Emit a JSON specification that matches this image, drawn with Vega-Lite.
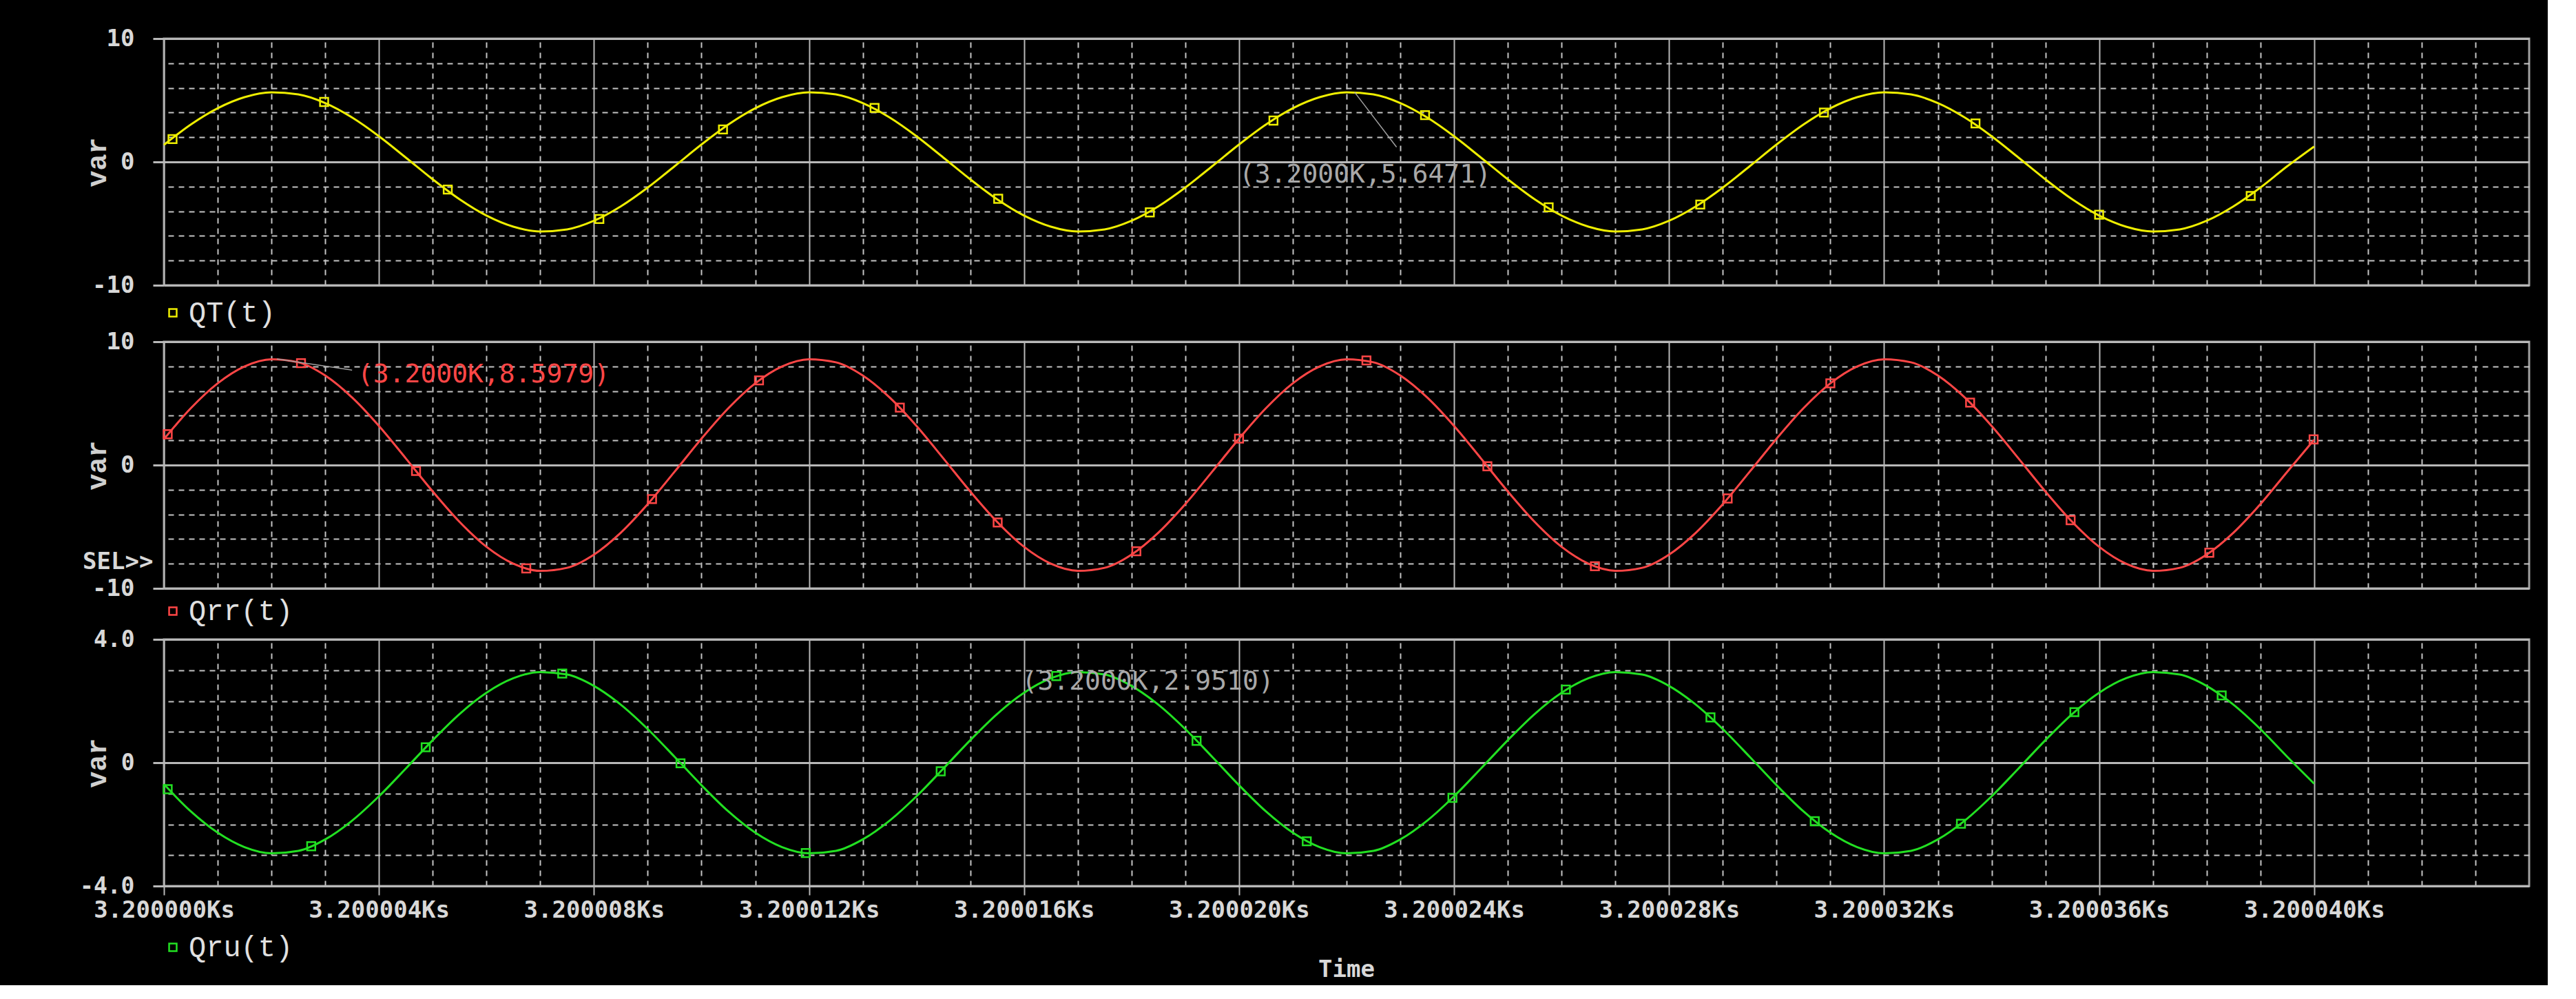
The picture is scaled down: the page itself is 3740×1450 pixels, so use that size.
{
"$schema": "https://vega.github.io/schema/vega-lite/v6.json",
"background": "#000000",
"padding": {"left": 114, "top": 37, "right": 25, "bottom": 3},
"spacing": 0,
"datasets": {
"curves": [
{"t":0,"QT":1.38,"Qrr":2.1,"Qru":-0.7},
{"t":0.5,"QT":3.03,"Qrr":4.61,"Qru":-1.58},
{"t":1,"QT":4.35,"Qrr":6.63,"Qru":-2.27},
{"t":1.5,"QT":5.25,"Qrr":8.0,"Qru":-2.74},
{"t":2,"QT":5.64,"Qrr":8.58,"Qru":-2.94},
{"t":2.5,"QT":5.47,"Qrr":8.33,"Qru":-2.86},
{"t":3,"QT":4.77,"Qrr":7.26,"Qru":-2.49},
{"t":3.5,"QT":3.6,"Qrr":5.48,"Qru":-1.88},
{"t":4,"QT":2.08,"Qrr":3.17,"Qru":-1.09},
{"t":4.5,"QT":0.35,"Qrr":0.54,"Qru":-0.19},
{"t":5,"QT":-1.41,"Qrr":-2.14,"Qru":0.73},
{"t":5.5,"QT":-3.03,"Qrr":-4.61,"Qru":1.58},
{"t":6,"QT":-4.35,"Qrr":-6.63,"Qru":2.27},
{"t":6.5,"QT":-5.25,"Qrr":-8.0,"Qru":2.74},
{"t":7,"QT":-5.64,"Qrr":-8.58,"Qru":2.94},
{"t":7.5,"QT":-5.47,"Qrr":-8.33,"Qru":2.86},
{"t":8,"QT":-4.77,"Qrr":-7.26,"Qru":2.49},
{"t":8.5,"QT":-3.6,"Qrr":-5.48,"Qru":1.88},
{"t":9,"QT":-2.08,"Qrr":-3.17,"Qru":1.09},
{"t":9.5,"QT":-0.35,"Qrr":-0.54,"Qru":0.19},
{"t":10,"QT":1.41,"Qrr":2.14,"Qru":-0.73},
{"t":10.5,"QT":3.03,"Qrr":4.61,"Qru":-1.58},
{"t":11,"QT":4.35,"Qrr":6.63,"Qru":-2.27},
{"t":11.5,"QT":5.25,"Qrr":8.0,"Qru":-2.74},
{"t":12,"QT":5.64,"Qrr":8.58,"Qru":-2.94},
{"t":12.5,"QT":5.47,"Qrr":8.33,"Qru":-2.86},
{"t":13,"QT":4.77,"Qrr":7.26,"Qru":-2.49},
{"t":13.5,"QT":3.6,"Qrr":5.48,"Qru":-1.88},
{"t":14,"QT":2.08,"Qrr":3.17,"Qru":-1.09},
{"t":14.5,"QT":0.35,"Qrr":0.54,"Qru":-0.19},
{"t":15,"QT":-1.41,"Qrr":-2.14,"Qru":0.73},
{"t":15.5,"QT":-3.03,"Qrr":-4.61,"Qru":1.58},
{"t":16,"QT":-4.35,"Qrr":-6.63,"Qru":2.27},
{"t":16.5,"QT":-5.25,"Qrr":-8.0,"Qru":2.74},
{"t":17,"QT":-5.64,"Qrr":-8.58,"Qru":2.94},
{"t":17.5,"QT":-5.47,"Qrr":-8.33,"Qru":2.86},
{"t":18,"QT":-4.77,"Qrr":-7.26,"Qru":2.49},
{"t":18.5,"QT":-3.6,"Qrr":-5.48,"Qru":1.88},
{"t":19,"QT":-2.08,"Qrr":-3.17,"Qru":1.09},
{"t":19.5,"QT":-0.35,"Qrr":-0.54,"Qru":0.19},
{"t":20,"QT":1.41,"Qrr":2.14,"Qru":-0.73},
{"t":20.5,"QT":3.03,"Qrr":4.61,"Qru":-1.58},
{"t":21,"QT":4.35,"Qrr":6.63,"Qru":-2.27},
{"t":21.5,"QT":5.25,"Qrr":8.0,"Qru":-2.74},
{"t":22,"QT":5.64,"Qrr":8.58,"Qru":-2.94},
{"t":22.5,"QT":5.47,"Qrr":8.33,"Qru":-2.86},
{"t":23,"QT":4.77,"Qrr":7.26,"Qru":-2.49},
{"t":23.5,"QT":3.6,"Qrr":5.48,"Qru":-1.88},
{"t":24,"QT":2.08,"Qrr":3.17,"Qru":-1.09},
{"t":24.5,"QT":0.35,"Qrr":0.54,"Qru":-0.19},
{"t":25,"QT":-1.41,"Qrr":-2.14,"Qru":0.73},
{"t":25.5,"QT":-3.03,"Qrr":-4.61,"Qru":1.58},
{"t":26,"QT":-4.35,"Qrr":-6.63,"Qru":2.27},
{"t":26.5,"QT":-5.25,"Qrr":-8.0,"Qru":2.74},
{"t":27,"QT":-5.64,"Qrr":-8.58,"Qru":2.94},
{"t":27.5,"QT":-5.47,"Qrr":-8.33,"Qru":2.86},
{"t":28,"QT":-4.77,"Qrr":-7.26,"Qru":2.49},
{"t":28.5,"QT":-3.6,"Qrr":-5.48,"Qru":1.88},
{"t":29,"QT":-2.08,"Qrr":-3.17,"Qru":1.09},
{"t":29.5,"QT":-0.35,"Qrr":-0.54,"Qru":0.19},
{"t":30,"QT":1.41,"Qrr":2.14,"Qru":-0.73},
{"t":30.5,"QT":3.03,"Qrr":4.61,"Qru":-1.58},
{"t":31,"QT":4.35,"Qrr":6.63,"Qru":-2.27},
{"t":31.5,"QT":5.25,"Qrr":8.0,"Qru":-2.74},
{"t":32,"QT":5.64,"Qrr":8.58,"Qru":-2.94},
{"t":32.5,"QT":5.47,"Qrr":8.33,"Qru":-2.86},
{"t":33,"QT":4.77,"Qrr":7.26,"Qru":-2.49},
{"t":33.5,"QT":3.6,"Qrr":5.48,"Qru":-1.88},
{"t":34,"QT":2.08,"Qrr":3.17,"Qru":-1.09},
{"t":34.5,"QT":0.35,"Qrr":0.54,"Qru":-0.19},
{"t":35,"QT":-1.41,"Qrr":-2.14,"Qru":0.73},
{"t":35.5,"QT":-3.03,"Qrr":-4.61,"Qru":1.58},
{"t":36,"QT":-4.35,"Qrr":-6.63,"Qru":2.27},
{"t":36.5,"QT":-5.25,"Qrr":-8.0,"Qru":2.74},
{"t":37,"QT":-5.64,"Qrr":-8.58,"Qru":2.94},
{"t":37.5,"QT":-5.47,"Qrr":-8.33,"Qru":2.86},
{"t":38,"QT":-4.77,"Qrr":-7.26,"Qru":2.49},
{"t":38.5,"QT":-3.6,"Qrr":-5.48,"Qru":1.88},
{"t":39,"QT":-2.08,"Qrr":-3.17,"Qru":1.09},
{"t":39.5,"QT":-0.35,"Qrr":-0.54,"Qru":0.19},
{"t":40,"QT":1.25,"Qrr":2.05,"Qru":-0.68}
],
"marks": [
{"s":"QT","t":0.16,"v":1.85},{"s":"QT","t":2.98,"v":4.86},{"s":"QT","t":5.28,"v":-2.24},{"s":"QT","t":8.1,"v":-4.63},
{"s":"QT","t":10.4,"v":2.63},{"s":"QT","t":13.22,"v":4.38},{"s":"QT","t":15.52,"v":-2.99},{"s":"QT","t":18.34,"v":-4.09},
{"s":"QT","t":20.64,"v":3.35},{"s":"QT","t":23.46,"v":3.79},{"s":"QT","t":25.76,"v":-3.68},{"s":"QT","t":28.58,"v":-3.46},
{"s":"QT","t":30.88,"v":4.0},{"s":"QT","t":33.7,"v":3.12},{"s":"QT","t":36.0,"v":-4.28},{"s":"QT","t":38.82,"v":-2.76},
{"s":"Qrr","t":0.07,"v":2.5},{"s":"Qrr","t":2.55,"v":8.26},{"s":"Qrr","t":4.69,"v":-0.48},{"s":"Qrr","t":6.74,"v":-8.38},
{"s":"Qrr","t":9.08,"v":-2.76},{"s":"Qrr","t":11.07,"v":6.86},{"s":"Qrr","t":13.69,"v":4.66},{"s":"Qrr","t":15.51,"v":-4.66},
{"s":"Qrr","t":18.09,"v":-6.99},{"s":"Qrr","t":20.0,"v":2.14},{"s":"Qrr","t":22.37,"v":8.48},{"s":"Qrr","t":24.62,"v":-0.1},
{"s":"Qrr","t":26.62,"v":-8.21},{"s":"Qrr","t":29.09,"v":-2.71},{"s":"Qrr","t":31.0,"v":6.63},{"s":"Qrr","t":33.6,"v":5.06},
{"s":"Qrr","t":35.47,"v":-4.47},{"s":"Qrr","t":38.05,"v":-7.11},{"s":"Qrr","t":39.99,"v":2.08},
{"s":"Qru","t":0.07,"v":-0.86},{"s":"Qru","t":2.74,"v":-2.71},{"s":"Qru","t":4.87,"v":0.5},{"s":"Qru","t":7.41,"v":2.89},
{"s":"Qru","t":9.61,"v":-0.02},{"s":"Qru","t":11.94,"v":-2.93},{"s":"Qru","t":14.45,"v":-0.28},{"s":"Qru","t":16.6,"v":2.81},
{"s":"Qru","t":19.21,"v":0.71},{"s":"Qru","t":21.26,"v":-2.55},{"s":"Qru","t":23.97,"v":-1.14},{"s":"Qru","t":26.08,"v":2.37},
{"s":"Qru","t":28.77,"v":1.47},{"s":"Qru","t":30.71,"v":-1.9},{"s":"Qru","t":33.43,"v":-1.98},{"s":"Qru","t":35.54,"v":1.64},
{"s":"Qru","t":38.28,"v":2.18}
],
"notes": [
{"s":"QT","tx":20.0,"vy":-1.05,"label":"(3.2000K,5.6471)","t":22.15,"v":5.65,"t2":22.93,"v2":1.2},
{"s":"Qrr","tx":3.6,"vy":7.3,"label":"(3.2000K,8.5979)","t":2.1,"v":8.6,"t2":3.5,"v2":7.7},
{"s":"Qru","tx":15.96,"vy":2.62,"label":"(3.2000K,2.9510)","t":16.9,"v":2.95,"t2":16.9,"v2":2.95},
{"s":"SEL","tx":-0.2,"vy":-7.9,"label":"SEL>>","t":0,"v":0,"t2":0,"v2":0}
]
},
"vconcat": [
{
"width": 3434, "height": 358,
"layer": [
{"data":{"name":"curves"},"transform":[{"fold":["QT"],"as":["s","v"]}],
 "mark":{"type":"line","strokeWidth":3,"interpolate":"monotone"},
 "encoding":{
  "x":{"field":"t","type":"quantitative","scale":{"domain":[0,44],"nice":false,"zero":false},
       "axis":{"values":[0,4,8,12,16,20,24,28,32,36,40],"labels":false,"ticks":false,"domain":false,"grid":true,"gridColor":"#b8b8b8","gridWidth":2,"title":null}},
  "y":{"field":"v","type":"quantitative","scale":{"domain":[-10,10],"nice":false,"zero":false},
       "axis":{"values":[-10,0,10],"labelExpr":"datum.value < 0 ? '-' + format(-datum.value,'d') : format(datum.value,'d')","labelFlush":false,"labelFont":"DejaVu Sans Mono","labelFontSize":34,"labelFontWeight":"bold","labelColor":"#d8d8d8","labelPadding":27,"ticks":true,"tickSize":16,"tickWidth":3,"tickColor":"#b8b8b8","domain":false,"grid":true,"gridColor":"#b8b8b8","gridWidth":3,"title":"var","titleFont":"Liberation Mono","titleFontSize":40,"titleFontWeight":"bold","titleColor":"#d0d0d0","titleX":-97,"titleY":179,"titleAngle":270,"titleAlign":"center","titleBaseline":"middle"}},
  "color":{"field":"s","type":"nominal","scale":{"domain":["QT"],"range":["#eeee00"]},
       "legend":{"orient":"bottom","title":null,"offset":19,"padding":0,"symbolType":"square","symbolSize":120,"symbolStrokeWidth":2.5,"symbolFillColor":"transparent","symbolOffset":-8,"labelOffset":2,"labelFont":"Liberation Mono","labelFontSize":42,"labelColor":"#e0e0e0","labelExpr":"datum.label + '(t)'"}}
 }},
{"data":{"name":"marks"},"transform":[{"filter":"datum.s == 'QT'"}],
 "mark":{"type":"point","shape":"square","filled":false,"size":140,"strokeWidth":2.5,"color":"#eeee00","opacity":1},
 "encoding":{
  "x":{"field":"t","type":"quantitative","scale":{"domain":[0,44],"nice":false,"zero":false},
       "axis":{"values":[1,2,3,5,6,7,9,10,11,13,14,15,17,18,19,21,22,23,25,26,27,29,30,31,33,34,35,37,38,39,41,42,43],"labels":false,"ticks":false,"domain":false,"grid":true,"gridColor":"#c4c4c4","gridWidth":2,"gridDash":[8,7],"title":null}},
  "y":{"field":"v","type":"quantitative","scale":{"domain":[-10,10],"nice":false,"zero":false},
       "axis":{"values":[-8,-6,-4,-2,2,4,6,8],"labels":false,"ticks":false,"domain":false,"grid":true,"gridColor":"#c4c4c4","gridWidth":2,"gridDash":[8,7],"title":null}}
 }},
{"data":{"name":"notes"},"transform":[{"filter":"datum.s == 'QT'"}],
 "mark":{"type":"rule","color":"#a0a0a0","strokeWidth":1.5},
 "encoding":{
  "x":{"field":"t","type":"quantitative","scale":{"domain":[0,44],"nice":false,"zero":false},"axis":null},
  "y":{"field":"v","type":"quantitative","scale":{"domain":[-10,10],"nice":false,"zero":false},"axis":null},
  "x2":{"field":"t2"},"y2":{"field":"v2"}
 }},
{"data":{"name":"notes"},"transform":[{"filter":"datum.s == 'QT'"}],
 "mark":{"type":"text","align":"left","baseline":"middle","font":"DejaVu Sans Mono","fontSize":38,"color":"#a8a8a8"},
 "encoding":{
  "x":{"field":"tx","type":"quantitative","scale":{"domain":[0,44],"nice":false,"zero":false},"axis":null},
  "y":{"field":"vy","type":"quantitative","scale":{"domain":[-10,10],"nice":false,"zero":false},"axis":null},
  "text":{"field":"label"}
 }}
],
"resolve":{"axis":{"x":"independent","y":"independent"}}
},
{
"width": 3434, "height": 358,
"layer": [
{"data":{"name":"curves"},"transform":[{"fold":["Qrr"],"as":["s","v"]}],
 "mark":{"type":"line","strokeWidth":3,"interpolate":"monotone"},
 "encoding":{
  "x":{"field":"t","type":"quantitative","scale":{"domain":[0,44],"nice":false,"zero":false},
       "axis":{"values":[0,4,8,12,16,20,24,28,32,36,40],"labels":false,"ticks":false,"domain":false,"grid":true,"gridColor":"#b8b8b8","gridWidth":2,"title":null}},
  "y":{"field":"v","type":"quantitative","scale":{"domain":[-10,10],"nice":false,"zero":false},
       "axis":{"values":[-10,0,10],"labelExpr":"datum.value < 0 ? '-' + format(-datum.value,'d') : format(datum.value,'d')","labelFlush":false,"labelFont":"DejaVu Sans Mono","labelFontSize":34,"labelFontWeight":"bold","labelColor":"#d8d8d8","labelPadding":27,"ticks":true,"tickSize":16,"tickWidth":3,"tickColor":"#b8b8b8","domain":false,"grid":true,"gridColor":"#b8b8b8","gridWidth":3,"title":"var","titleFont":"Liberation Mono","titleFontSize":40,"titleFontWeight":"bold","titleColor":"#d0d0d0","titleX":-97,"titleY":179,"titleAngle":270,"titleAlign":"center","titleBaseline":"middle"}},
  "color":{"field":"s","type":"nominal","scale":{"domain":["Qrr"],"range":["#ff4646"]},
       "legend":{"orient":"bottom","title":null,"offset":12,"padding":0,"symbolType":"square","symbolSize":120,"symbolStrokeWidth":2.5,"symbolFillColor":"transparent","symbolOffset":-8,"labelOffset":2,"labelFont":"Liberation Mono","labelFontSize":42,"labelColor":"#e0e0e0","labelExpr":"datum.label + '(t)'"}}
 }},
{"data":{"name":"marks"},"transform":[{"filter":"datum.s == 'Qrr'"}],
 "mark":{"type":"point","shape":"square","filled":false,"size":140,"strokeWidth":2.5,"color":"#ff4646","opacity":1},
 "encoding":{
  "x":{"field":"t","type":"quantitative","scale":{"domain":[0,44],"nice":false,"zero":false},
       "axis":{"values":[1,2,3,5,6,7,9,10,11,13,14,15,17,18,19,21,22,23,25,26,27,29,30,31,33,34,35,37,38,39,41,42,43],"labels":false,"ticks":false,"domain":false,"grid":true,"gridColor":"#c4c4c4","gridWidth":2,"gridDash":[8,7],"title":null}},
  "y":{"field":"v","type":"quantitative","scale":{"domain":[-10,10],"nice":false,"zero":false},
       "axis":{"values":[-8,-6,-4,-2,2,4,6,8],"labels":false,"ticks":false,"domain":false,"grid":true,"gridColor":"#c4c4c4","gridWidth":2,"gridDash":[8,7],"title":null}}
 }},
{"data":{"name":"notes"},"transform":[{"filter":"datum.s == 'Qrr'"}],
 "mark":{"type":"rule","color":"#a0a0a0","strokeWidth":1.5},
 "encoding":{
  "x":{"field":"t","type":"quantitative","scale":{"domain":[0,44],"nice":false,"zero":false},"axis":null},
  "y":{"field":"v","type":"quantitative","scale":{"domain":[-10,10],"nice":false,"zero":false},"axis":null},
  "x2":{"field":"t2"},"y2":{"field":"v2"}
 }},
{"data":{"name":"notes"},"transform":[{"filter":"datum.s == 'Qrr'"}],
 "mark":{"type":"text","align":"left","baseline":"middle","font":"DejaVu Sans Mono","fontSize":38,"color":"#ff4646"},
 "encoding":{
  "x":{"field":"tx","type":"quantitative","scale":{"domain":[0,44],"nice":false,"zero":false},"axis":null},
  "y":{"field":"vy","type":"quantitative","scale":{"domain":[-10,10],"nice":false,"zero":false},"axis":null},
  "text":{"field":"label"}
 }},
{"data":{"name":"notes"},"transform":[{"filter":"datum.s == 'SEL'"}],
 "mark":{"type":"text","align":"right","baseline":"middle","font":"DejaVu Sans Mono","fontSize":34,"fontWeight":"bold","color":"#d8d8d8"},
 "encoding":{
  "x":{"field":"tx","type":"quantitative","scale":{"domain":[0,44],"nice":false,"zero":false},"axis":null},
  "y":{"field":"vy","type":"quantitative","scale":{"domain":[-10,10],"nice":false,"zero":false},"axis":null},
  "text":{"field":"label"}
 }}
],
"resolve":{"axis":{"x":"independent","y":"independent"}}
},
{
"width": 3434, "height": 358,
"title": {"text":"Time","orient":"bottom","anchor":"middle","frame":"group","font":"DejaVu Sans Mono","fontSize":34,"fontWeight":"bold","color":"#d8d8d8","offset":-5},
"layer": [
{"data":{"name":"curves"},"transform":[{"fold":["Qru"],"as":["s","v"]}],
 "mark":{"type":"line","strokeWidth":3,"interpolate":"monotone"},
 "encoding":{
  "x":{"field":"t","type":"quantitative","scale":{"domain":[0,44],"nice":false,"zero":false},
       "axis":{"values":[0,4,8,12,16,20,24,28,32,36,40],"labelExpr":"'3.2000' + (datum.value < 10 ? '0' : '') + format(datum.value,'d') + 'Ks'","labelFlush":false,"labelOverlap":false,"labelLimit":0,"labelFont":"DejaVu Sans Mono","labelFontSize":34,"labelFontWeight":"bold","labelColor":"#d8d8d8","labelPadding":5,"ticks":true,"tickSize":13,"tickWidth":2,"tickColor":"#b8b8b8","domain":false,"grid":true,"gridColor":"#b8b8b8","gridWidth":2,"title":null}},
  "y":{"field":"v","type":"quantitative","scale":{"domain":[-4,4],"nice":false,"zero":false},
       "axis":{"values":[-4,0,4],"labelExpr":"datum.value == 0 ? '0' : (datum.value < 0 ? '-' : '') + format(abs(datum.value),'.1f')","labelFlush":false,"labelFont":"DejaVu Sans Mono","labelFontSize":33,"labelFontWeight":"bold","labelColor":"#d8d8d8","labelPadding":27,"ticks":true,"tickSize":16,"tickWidth":3,"tickColor":"#b8b8b8","domain":false,"grid":true,"gridColor":"#b8b8b8","gridWidth":3,"title":"var","titleFont":"Liberation Mono","titleFontSize":40,"titleFontWeight":"bold","titleColor":"#d0d0d0","titleX":-97,"titleY":179,"titleAngle":270,"titleAlign":"center","titleBaseline":"middle"}},
  "color":{"field":"s","type":"nominal","scale":{"domain":["Qru"],"range":["#22e022"]},
       "legend":{"orient":"bottom","title":null,"offset":16,"padding":0,"symbolType":"square","symbolSize":120,"symbolStrokeWidth":2.5,"symbolFillColor":"transparent","symbolOffset":-8,"labelOffset":2,"labelFont":"Liberation Mono","labelFontSize":42,"labelColor":"#e0e0e0","labelExpr":"datum.label + '(t)'"}}
 }},
{"data":{"name":"marks"},"transform":[{"filter":"datum.s == 'Qru'"}],
 "mark":{"type":"point","shape":"square","filled":false,"size":140,"strokeWidth":2.5,"color":"#22e022","opacity":1},
 "encoding":{
  "x":{"field":"t","type":"quantitative","scale":{"domain":[0,44],"nice":false,"zero":false},
       "axis":{"values":[1,2,3,5,6,7,9,10,11,13,14,15,17,18,19,21,22,23,25,26,27,29,30,31,33,34,35,37,38,39,41,42,43],"labels":false,"ticks":false,"domain":false,"grid":true,"gridColor":"#c4c4c4","gridWidth":2,"gridDash":[8,7],"title":null}},
  "y":{"field":"v","type":"quantitative","scale":{"domain":[-4,4],"nice":false,"zero":false},
       "axis":{"values":[-3,-2,-1,1,2,3],"labels":false,"ticks":false,"domain":false,"grid":true,"gridColor":"#c4c4c4","gridWidth":2,"gridDash":[8,7],"title":null}}
 }},
{"data":{"name":"notes"},"transform":[{"filter":"datum.s == 'Qru'"}],
 "mark":{"type":"text","align":"left","baseline":"middle","font":"DejaVu Sans Mono","fontSize":38,"color":"#a8a8a8"},
 "encoding":{
  "x":{"field":"tx","type":"quantitative","scale":{"domain":[0,44],"nice":false,"zero":false},"axis":null},
  "y":{"field":"vy","type":"quantitative","scale":{"domain":[-4,4],"nice":false,"zero":false},"axis":null},
  "text":{"field":"label"}
 }}
],
"resolve":{"axis":{"x":"independent","y":"independent"}}
}
],
"resolve": {"scale": {"x":"independent","y":"independent","color":"independent"}, "legend": {"color":"independent"}},
"config": {"view": {"stroke": "#a0a0a0", "strokeWidth": 3}}
}
